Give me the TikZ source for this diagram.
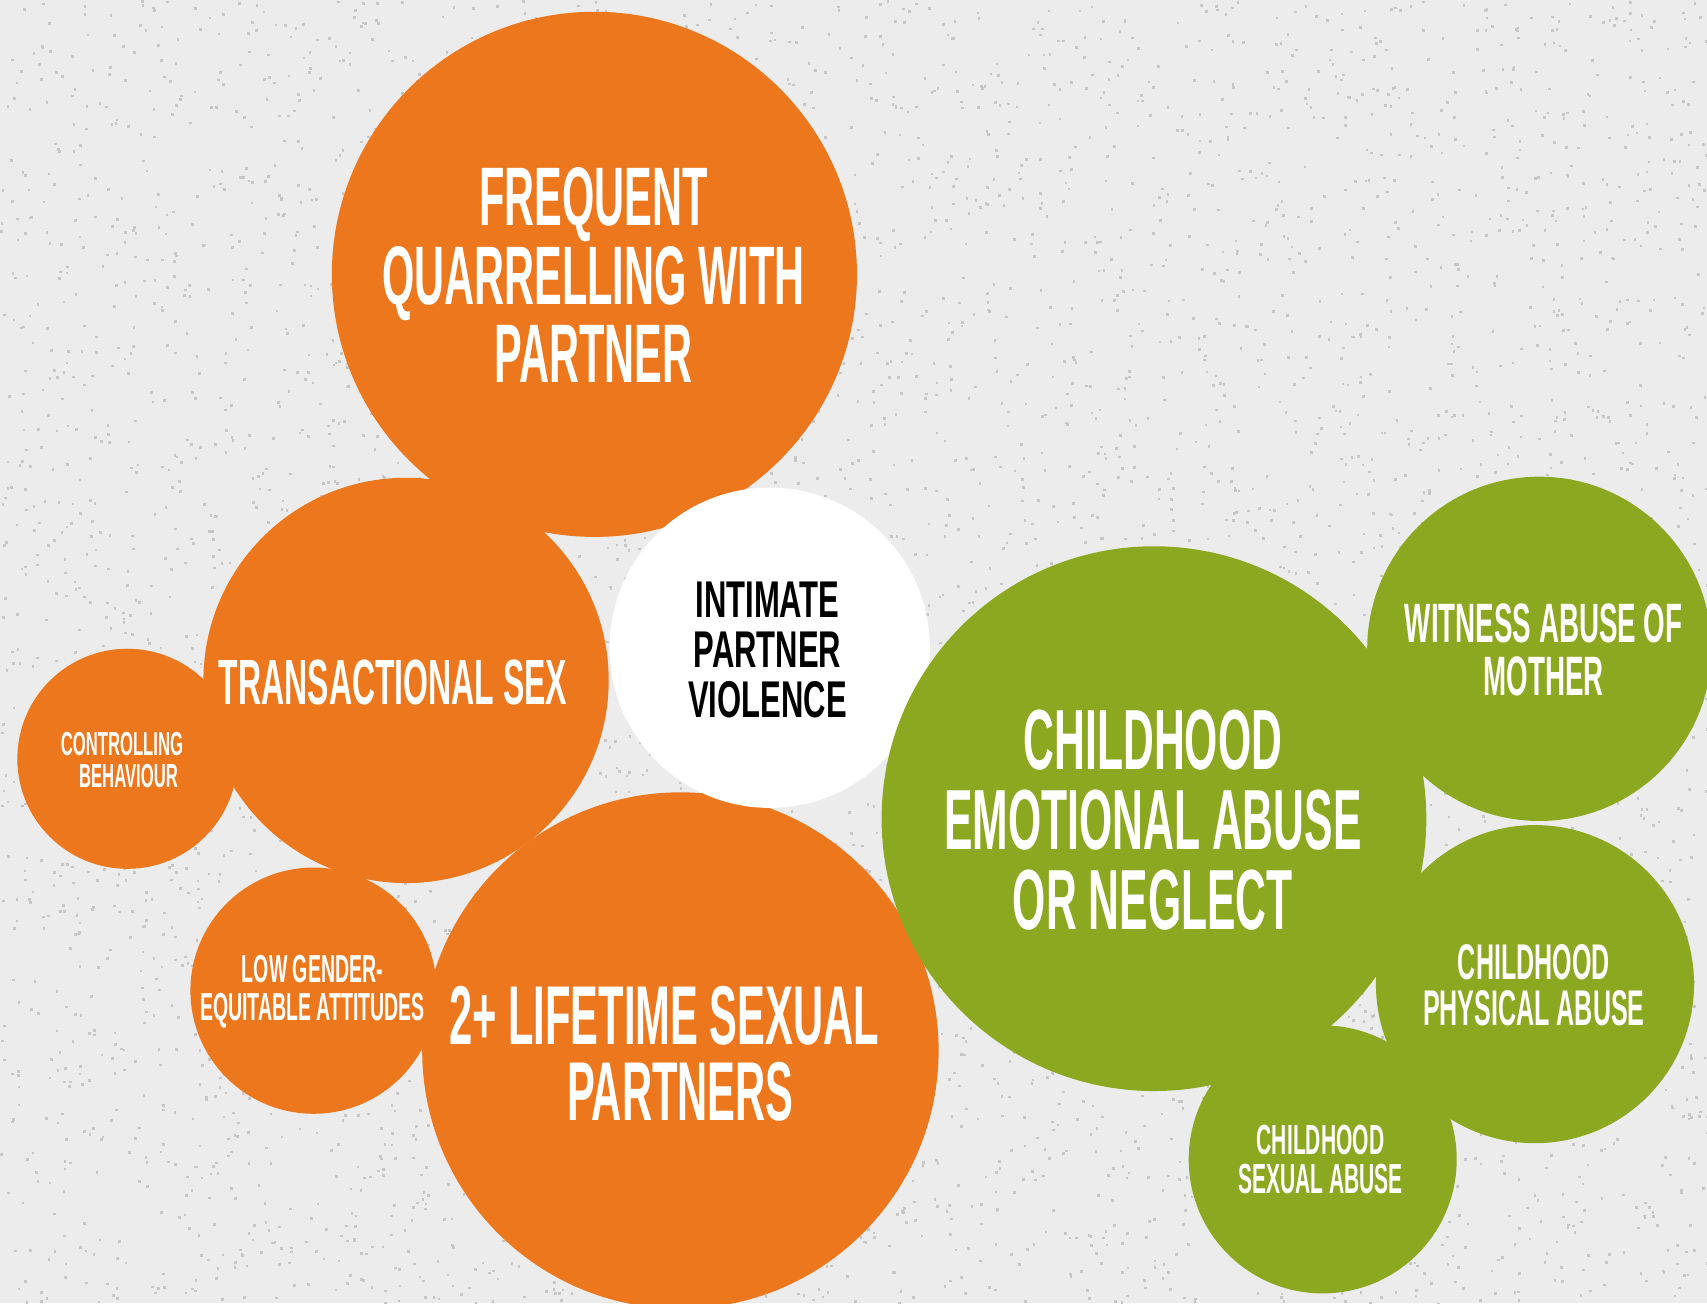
\documentclass[tikz,border=0pt]{standalone}
\usepackage{fontspec}
\usepackage{xcolor}
\newfontfamily\bubblefont[FakeStretch=0.5]{Liberation Sans Bold}
\newfontfamily\centrefont[FakeStretch=0.6]{Liberation Sans Bold}
\definecolor{riskorange}{RGB}{237,119,28}
\definecolor{riskgreen}{RGB}{140,167,32}
\definecolor{paper}{RGB}{236,236,236}
\definecolor{speck}{RGB}{198,198,198}
\newcommand{\bsize}[2]{\bubblefont\fontsize{#1}{#2}\selectfont}

\begin{document}
\begin{tikzpicture}[x=0.01cm, y=-0.01cm,
        bubble/.style={circle, inner sep=0pt, minimum size=#1*0.02cm},
        ob/.style={bubble=#1, fill=riskorange},
        gb/.style={bubble=#1, fill=riskgreen},
        wb/.style={bubble=#1, fill=white},
        txt/.style={align=center, text=white, inner sep=0pt}
    ]
        \useasboundingbox (0,0) rectangle (1568,1197);
        \clip (0,0) rectangle (1568,1197);

        % paper background
        \fill[paper] (0,0) rectangle (1568,1197);
        \pgfmathsetseed{42}
        \foreach \i in {1,...,5500} {
            \pgfmathsetmacro\px{rnd*1568}
            \pgfmathsetmacro\py{rnd*1197}
            \fill[speck] (\px,\py) rectangle ++(2.4,2.4);
        }

        % orange bubbles
        \node[ob=241] (quarrel) at (546,252) {};
        \node[ob=186] (trans) at (373,625) {};
        \node[ob=101] (control) at (117,697) {};
        \node[ob=113] (gender) at (288,910) {};
        \node[ob=237] (partners) at (625,965) {};

        % centre
        \node[wb=147] (ipv) at (707,595) {};

        % green bubbles
        \node[gb=250] (emotional) at (1060,752) {};
        \node[gb=158] (witness) at (1414,596) {};
        \node[gb=146] (physical) at (1410,904) {};
        \node[gb=123] (sexual) at (1215,1065) {};

        % labels
        \node[txt, font=\bsize{21.7pt}{20.5pt}] (quarrel_lbl) at (545,253) {FREQUENT\\QUARRELLING WITH\\PARTNER};
        \node[txt, font=\bsize{16.7pt}{16pt}] (trans_lbl) at (361,627) {TRANSACTIONAL SEX};
        \node[txt, font=\bsize{8.7pt}{8.3pt}] (control_lbl) at (112,698) {CONTROLLING\\\hspace*{0.12cm}BEHAVIOUR};
        \node[txt, font=\bsize{10.2pt}{10pt}] (gender_lbl) at (287,911) {LOW GENDER-\\EQUITABLE ATTITUDES};
        \node[txt, font=\bsize{21.8pt}{19.7pt}] (partners_lbl) at (610,968) {2+ LIFETIME SEXUAL\\\hspace*{0.3cm}PARTNERS};
        \node[txt, text=black, font=\centrefont\fontsize{13.5pt}{13.1pt}\selectfont] (ipv_lbl) at (705,597) {INTIMATE\\PARTNER\\VIOLENCE};
        \node[txt, font=\bsize{22.3pt}{20.9pt}] (emotional_lbl) at (1059,753) {CHILDHOOD\\EMOTIONAL ABUSE\\OR NEGLECT};
        \node[txt, font=\bsize{14.5pt}{13.7pt}] (witness_lbl) at (1418,597) {WITNESS ABUSE OF\\MOTHER};
        \node[txt, font=\bsize{13.1pt}{12.2pt}] (physical_lbl) at (1409,905) {CHILDHOOD\\PHYSICAL ABUSE};
        \node[txt, font=\bsize{11pt}{10pt}] (sexual_lbl) at (1213,1065) {CHILDHOOD\\SEXUAL ABUSE};
    \end{tikzpicture}
\end{document}
